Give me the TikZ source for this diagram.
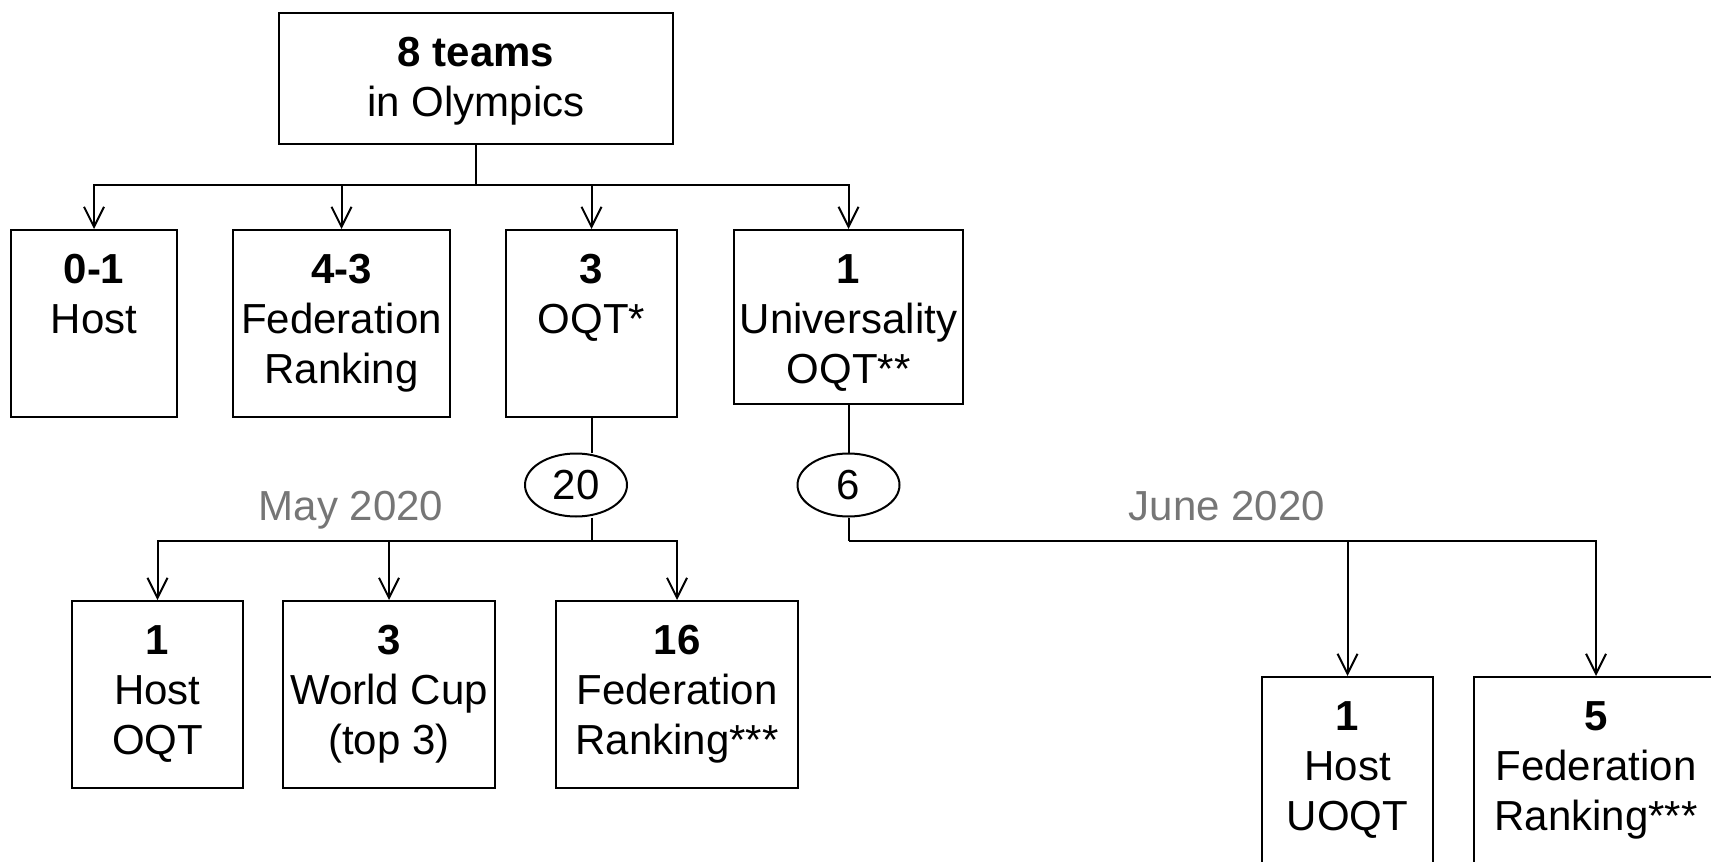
\documentclass[tikz,border=0pt]{standalone}
\usepackage{fontspec}
\setmainfont{Liberation Sans}
\usepackage{tikz}
\usetikzlibrary{shapes.geometric, arrows.meta}
\definecolor{dategray}{RGB}{118,118,118}
\newcommand{\lines}[1]{\begin{tabular}[t]{@{}c@{}}#1\end{tabular}}
\tikzstyle{box} = [draw, line width=1.1pt, rectangle, anchor=north, inner sep=0pt, text height=26.5pt, text depth=67pt]
\tikzstyle{count} = [draw, line width=1pt, ellipse, minimum width=51pt, minimum height=31.5pt, inner sep=0pt]
\tikzstyle{arrow} = [line width=1pt,-{Straight Barb[length=10pt,width=10pt]}]
\tikzstyle{date} = [text=dategray, anchor=base]

\begin{document}
\begin{tikzpicture}[x=0.5pt, y=-0.5pt, font=\fontsize{21}{25}\selectfont, line width=1pt]
    \useasboundingbox (0,0) rectangle (1711,861);
    \node[box, minimum width=197pt, text depth=39pt] (top) at (476,12) {\lines{\textbf{8 teams}\\in Olympics}};
    \node[box, minimum width=83pt] (host) at (94,229) {\lines{\textbf{0-1}\\Host}};
    \node[box, minimum width=108.5pt] (fed) at (341.5,229) {\lines{\textbf{4-3}\\Federation\\Ranking}};
    \node[box, minimum width=85.5pt] (oqt) at (591.5,229) {\lines{\textbf{3}\\OQT*}};
    \node[box, minimum width=114.5pt, text depth=60.5pt] (univ) at (848.5,229) {\lines{\textbf{1}\\Universality\\OQT**}};
    \node[count] (n20) at (576,485) {20};
    \node[count] (n6) at (848.5,485) {6};
    \node[date] (may) at (351,520) {May 2020};
    \node[date] (june) at (1227,520) {June 2020};
    \node[box, minimum width=85.5pt] (oqthost) at (157.5,600) {\lines{\textbf{1}\\Host\\OQT}};
    \node[box, minimum width=106pt] (wcup) at (389,600) {\lines{\textbf{3}\\World Cup\\(top 3)}};
    \node[box, minimum width=121pt] (oqtfed) at (677,600) {\lines{\textbf{16}\\Federation\\Ranking***}};
    \node[box, minimum width=85.5pt] (uoqthost) at (1347.5,676) {\lines{\textbf{1}\\Host\\UOQT}};
    \node[box, minimum width=122pt] (uoqtfed) at (1596,676) {\lines{\textbf{5}\\Federation\\Ranking***}};
    \coordinate (j0) at (top.south |- 0,185);
    \coordinate (j20) at (oqt.south |- 0,541);
    \coordinate (j6) at (n6.south |- 0,541);
    \draw (top.south) -- (j0);
    \draw[arrow] (j0) -| (host.north);
    \draw[arrow] (j0) -| (fed.north);
    \draw[arrow] (j0) -| (oqt.north);
    \draw[arrow] (j0) -| (univ.north);
    \draw (oqt.south) -- (oqt.south |- n20.north);
    \draw (oqt.south |- n20.south) -- (j20);
    \draw[arrow] (j20) -| (oqthost.north);
    \draw[arrow] (j20) -| (wcup.north);
    \draw[arrow] (j20) -| (oqtfed.north);
    \draw (univ.south) -- (n6.north);
    \draw (n6.south) -- (j6);
    \draw[arrow] (j6) -| (uoqthost.north);
    \draw[arrow] (j6) -| (uoqtfed.north);
\end{tikzpicture}
\end{document}
